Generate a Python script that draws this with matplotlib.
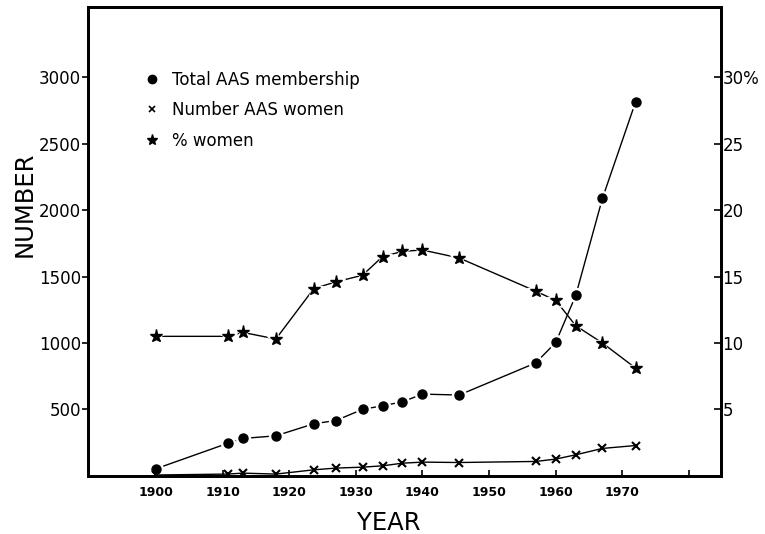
import matplotlib
matplotlib.use("Agg")
import matplotlib.pyplot as plt
from matplotlib.lines import Line2D

# values
years = [1900, 1910.8, 1913, 1918, 1923.7, 1927, 1931, 1934, 1937, 1940,
         1945.5, 1957, 1960, 1963, 1967, 1972]
total_members = [53, 245, 281, 301, 392, 416, 500, 527, 557, 615,
                 608, 850, 1004, 1358, 2088, 2818]
women_members = [6, 13, 20, 13, 45, 58, 65, 75, 95, 103,
                 100, 108, 126, 158, 206, 228]
pct_women = [10.5, 10.5, 10.8, 10.3, 14.1, 14.6, 15.1, 16.5, 16.9, 17.0,
             16.4, 13.9, 13.2, 11.3, 10.0, 8.1]

x_ticks = [1900, 1910, 1920, 1930, 1940, 1950, 1960, 1970, 1980]
x_labels = ["1900", "1910", "1920", "1930", "1940", "1950", "1960", "1970", ""]
left_ticks = [500, 1000, 1500, 2000, 2500, 3000]
right_ticks = [5, 10, 15, 20, 25, 30]
right_labels = ["5", "10", "15", "20", "25", "30%"]
legend_labels = ["Total AAS membership", "Number AAS women", "% women"]

fig = plt.figure(figsize=(7.65, 5.34), dpi=100)
ax = fig.add_axes([0.115, 0.109, 0.8275, 0.878])
ax2 = ax.twinx()

ax.set_xlim(1889.8, 1984.8)
ax.set_ylim(0, 3530)
ax2.set_ylim(0, 35.3)

# total membership: line, white halo, black dot
ax.plot(years, total_members, color="black", lw=1.0, zorder=1)
ax.plot(years, total_members, "o", ms=10, color="white", zorder=2)
ax.plot(years, total_members, "o", ms=6.5, color="black", zorder=3)

# number of women
ax.plot(years, women_members, color="black", lw=1.0, marker="x",
        ms=5.5, mew=1.5, zorder=3)

# percent women on the right axis
ax2.plot(years, pct_women, color="black", lw=1.0, zorder=1)
ax2.plot(years, pct_women, "*", ms=13, color="white", zorder=2)
ax2.plot(years, pct_women, "*", ms=9.5, color="black", zorder=3)

for a in (ax, ax2):
    for s in a.spines.values():
        s.set_linewidth(2)

ax.set_xticks(x_ticks)
ax.set_xticklabels(x_labels, fontsize=9, fontweight="bold")
ax.tick_params(axis="x", direction="in", length=4, width=1.2, pad=7)
ax.set_yticks(left_ticks)
ax.set_yticklabels([str(v) for v in left_ticks], fontsize=12)
ax.tick_params(axis="y", direction="out", length=4, width=1.2, pad=1)

ax2.set_yticks(right_ticks)
ax2.set_yticklabels(right_labels, fontsize=12)
ax2.tick_params(axis="y", direction="in", length=5, width=1.2, pad=1)

ax.set_xlabel("YEAR", fontsize=17.5)
ax.xaxis.set_label_coords(0.475, -0.075)
ax.set_ylabel("NUMBER", fontsize=17.5)
ax.yaxis.set_label_coords(-0.081, 0.58)

handles = [
    Line2D([], [], ls="none", marker="o", ms=6, color="black"),
    Line2D([], [], ls="none", marker="x", ms=4.5, mew=1.2, color="black"),
    Line2D([], [], ls="none", marker="*", ms=8, color="black"),
]
ax.legend(handles, legend_labels, loc="upper left",
          bbox_to_anchor=(0.0635, 0.896), frameon=False, fontsize=12,
          handlelength=1.0, handletextpad=0.7, labelspacing=0.75)

fig.savefig("out.png", dpi=100)
